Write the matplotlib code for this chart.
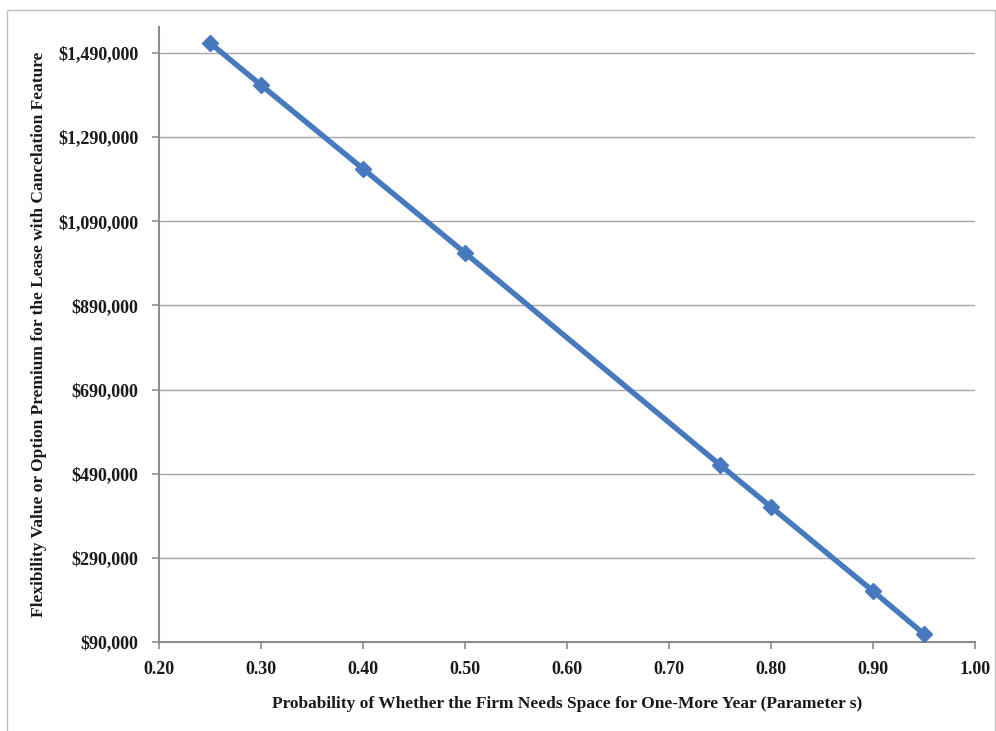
import numpy as np
import matplotlib
matplotlib.use("Agg")
import matplotlib.pyplot as plt
from matplotlib.patches import Rectangle
from matplotlib.ticker import FuncFormatter

s_values = [0.25, 0.30, 0.40, 0.50, 0.75, 0.80, 0.90, 0.95]
premium = [1514000, 1414000, 1215000, 1015000, 511000, 411000, 211000, 109000]
y_ticks = [90000, 290000, 490000, 690000, 890000, 1090000, 1290000, 1490000]
x_ticks = [0.20, 0.30, 0.40, 0.50, 0.60, 0.70, 0.80, 0.90, 1.00]

plt.rcParams['font.family'] = ['Liberation Serif', 'DejaVu Serif']
plt.rcParams['font.weight'] = 'bold'

fig = plt.figure(figsize=(9.96, 7.31), dpi=100)
# outer chart frame
fig.patches.append(Rectangle((7 / 996, -0.01), 988 / 996, 1 - 10 / 731 + 0.01,
                             transform=fig.transFigure, fill=False,
                             edgecolor='#BDBDBD', linewidth=1.0))

ax = fig.add_axes([159 / 996, 1 - 642 / 731, (975 - 159) / 996, (642 - 27) / 731])

grid_col = '#A6A6A6'
for y in y_ticks[1:]:
    ax.axhline(y, color=grid_col, linewidth=1.0, zorder=1)

ax.plot(s_values, premium, color='#4679BD', linewidth=3.9, marker='D',
        markersize=8, markerfacecolor='#4679BD', markeredgecolor='#4679BD',
        zorder=3, clip_on=False)

ax.set_xlim(0.20, 1.00)
ax.set_ylim(90000, 1552000)
ax.set_xticks(x_ticks)
ax.set_yticks(y_ticks)
ax.xaxis.set_major_formatter(FuncFormatter(lambda v, p: f"{v:.2f}"))
ax.yaxis.set_major_formatter(FuncFormatter(lambda v, p: f"${v:,.0f}"))

for side in ['top', 'right']:
    ax.spines[side].set_visible(False)
for side in ['left', 'bottom']:
    ax.spines[side].set_color('#8C8C8C')
    ax.spines[side].set_linewidth(1.5)

ax.tick_params(axis='both', colors='#8C8C8C', length=5, width=1.2,
               labelcolor='#1A1A1A', labelsize=13)
ax.tick_params(axis='x', pad=9)
ax.tick_params(axis='y', pad=10)

ax.set_xlabel("Probability of Whether the Firm Needs Space for One-More Year (Parameter s)",
              fontsize=12.5, fontweight='bold', color='#1A1A1A', labelpad=13)
ax.set_ylabel("Flexibility Value or Option Premium for the Lease with Cancelation Feature",
              fontsize=12.5, fontweight='bold', color='#1A1A1A', labelpad=8)

fig.savefig("out.png", dpi=100)
